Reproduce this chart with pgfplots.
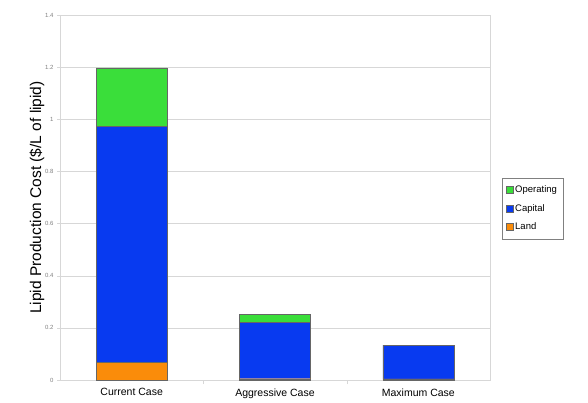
\documentclass[border=0pt]{standalone}
\usepackage{fontspec}
\setmainfont{Liberation Sans}
\usepackage{pgfplots}
\pgfplotsset{compat=1.18}
\definecolor{opgreen}{RGB}{58,222,58}
\definecolor{capblue}{RGB}{8,58,240}
\definecolor{landorange}{RGB}{250,140,10}
\definecolor{gridgray}{RGB}{215,215,215}

\pgfplotstableread{
x land capital operating
0 0.069 0.905 0.223
1 0.005 0.217 0.031
2 0.004 0.130 0.000
}\costs

\begin{document}
\begin{tikzpicture}[x=1pt,y=1pt]
\useasboundingbox (-60,-22) rectangle (528,380);
\begin{axis}[
    scale only axis,
    width=430pt,
    height=365pt,
    at={(0,0)},
    ybar stacked,
    bar width=71pt,
    xmin=-0.5, xmax=2.5,
    ymin=0, ymax=1.4,
    xtick={0,1,2},
    xticklabels={Current Case,Aggressive Case,Maximum Case},
    extra x ticks={0.5,1.5},
    extra x tick labels={},
    extra x tick style={xtick style={draw=gridgray}, major tick length=4pt},
    xtick pos=lower,
    ytick pos=left,
    ytick={0,0.2,0.4,0.6,0.8,1,1.2,1.4},
    yticklabels={0,0.2,0.4,0.6,0.8,1,1.2,1.4},
    ymajorgrids=true,
    grid style={gridgray},
    axis line style={gridgray},
    major tick style={gridgray},
    tick align=outside,
    major tick length=3pt,
    xtick style={draw=none},
    yticklabel style={font=\fontsize{6}{6}\selectfont, text=gray},
    xticklabel style={font=\fontsize{10.5}{11}\selectfont, yshift=-2pt},
    ylabel={Lipid Production Cost (\$/L of lipid)},
    ylabel style={font=\fontsize{15.5}{16}\selectfont, yshift=-6pt},
    legend style={at={(1.027,0.47)}, anchor=west, draw=gray, font=\fontsize{9.5}{11}\selectfont,
        legend cell align=left, row sep=6pt, inner xsep=4pt, inner ysep=6pt},
    legend image code/.code={\draw[#1] (0pt,-3.5pt) rectangle (7pt,3.5pt);},
    reverse legend,
]
\addplot[fill=landorange, draw=black!60] table[x=x,y=land] {\costs};
\addplot[fill=capblue, draw=black!60] table[x=x,y=capital] {\costs};
\addplot[fill=opgreen, draw=black!60] table[x=x,y=operating] {\costs};
\legend{Land,Capital,Operating}
\end{axis}
\end{tikzpicture}
\end{document}
